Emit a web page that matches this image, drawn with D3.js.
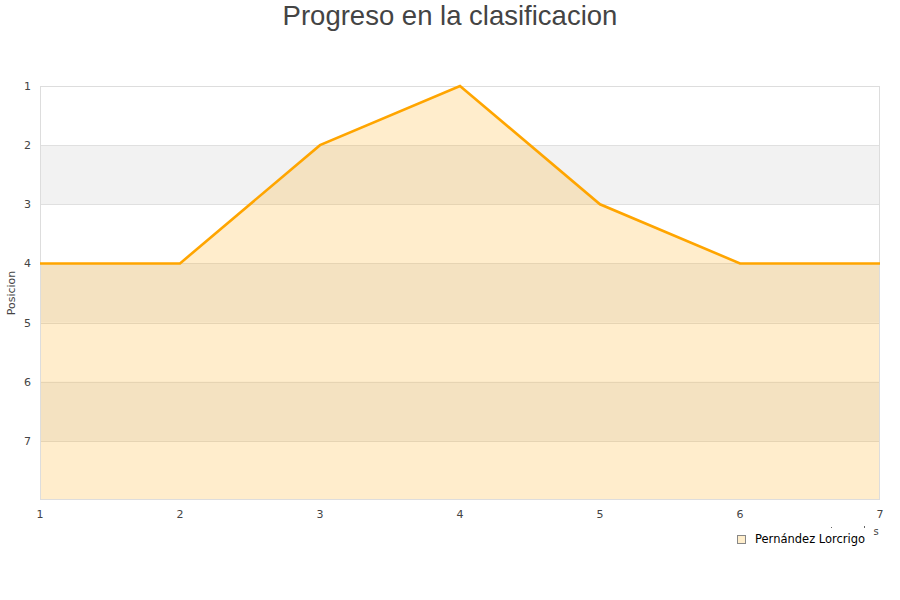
<!DOCTYPE html>
<html><head><meta charset="utf-8">
<script src="https://cdn.jsdelivr.net/npm/d3@7"></script>
<style>body{margin:0;background:#fff;font-family:"DejaVu Sans",sans-serif;}</style>
</head><body>
<script>
const jornadas = [1,2,3,4,5,6,7];
const posiciones = [4,4,2,1,3,4,4];
const yTicks = [1,2,3,4,5,6,7];
const serieNombre = "Pernández Lorcrigo";
const titulo = "Progreso en la clasificacion";

const W=900,H=600, L=40,R=880,T=86,B=500;
const svg=d3.select("body").append("svg").attr("width",W).attr("height",H);
const x=d3.scaleLinear().domain([1,7]).range([L,R]);
const y=d3.scaleLinear().domain([1,8]).range([T,B]);

// bands
[2,4,6].forEach(v=>{
  svg.append("rect").attr("x",L).attr("y",y(v)).attr("width",R-L).attr("height",y(v+1)-y(v)).attr("fill","#f2f2f2");
});
// grid
yTicks.forEach(v=>{
  svg.append("line").attr("x1",L).attr("x2",R).attr("y1",Math.round(y(v))+0.5).attr("y2",Math.round(y(v))+0.5).attr("stroke","#e0e0e0").attr("stroke-width",1);
});
// area
const pts=jornadas.map((j,i)=>[j,posiciones[i]]);
svg.append("path").datum(pts)
  .attr("d",d3.area().x(d=>x(d[0])).y0(y(8)).y1(d=>y(d[1])))
  .attr("fill","rgba(255,165,0,0.2)");
// border
svg.append("rect").attr("x",L+0.5).attr("y",T+0.5).attr("width",R-L-1).attr("height",B-T-1).attr("fill","none").attr("stroke","#dddddd");
// line
svg.append("path").datum(pts)
  .attr("d",d3.line().x(d=>x(d[0])).y(d=>y(d[1])))
  .attr("fill","none").attr("stroke","#ffa500").attr("stroke-width",2.6);

// y tick labels
svg.append("g").selectAll("text").data(yTicks).join("text")
  .attr("x",31).attr("y",d=>y(d)+4).attr("text-anchor","end")
  .attr("font-size",11).attr("fill","#444").text(d=>d);
// x tick labels
svg.append("g").selectAll("text").data(jornadas).join("text")
  .attr("x",d=>x(d)).attr("y",518).attr("text-anchor","middle")
  .attr("font-size",11).attr("fill","#444").text(d=>d);

// title
svg.append("text").attr("x",450).attr("y",25).attr("text-anchor","middle")
  .attr("font-family","Liberation Sans, Arial, sans-serif").attr("font-size",27.5).attr("fill","#444").text(titulo);
// y label
svg.append("text").attr("transform","translate(15,293) rotate(-90)").attr("text-anchor","middle")
  .attr("font-size",11).attr("fill","#444").text("Posicion");
// clipped x axis label remnant
svg.append("text").attr("x",876).attr("y",535).attr("text-anchor","middle").attr("font-size",10).attr("fill","#444").text("s");
svg.append("rect").attr("x",831).attr("y",527).attr("width",1).attr("height",1).attr("fill","#666");
svg.append("rect").attr("x",864).attr("y",526).attr("width",1).attr("height",2).attr("fill","#666");

// legend
svg.append("rect").attr("x",737.5).attr("y",535.5).attr("width",8).attr("height",8).attr("fill","#ffeecc").attr("stroke","#888");
svg.append("text").attr("x",755).attr("y",543).attr("font-size",11.5).attr("fill","#000").text(serieNombre);
</script>
</body></html>
